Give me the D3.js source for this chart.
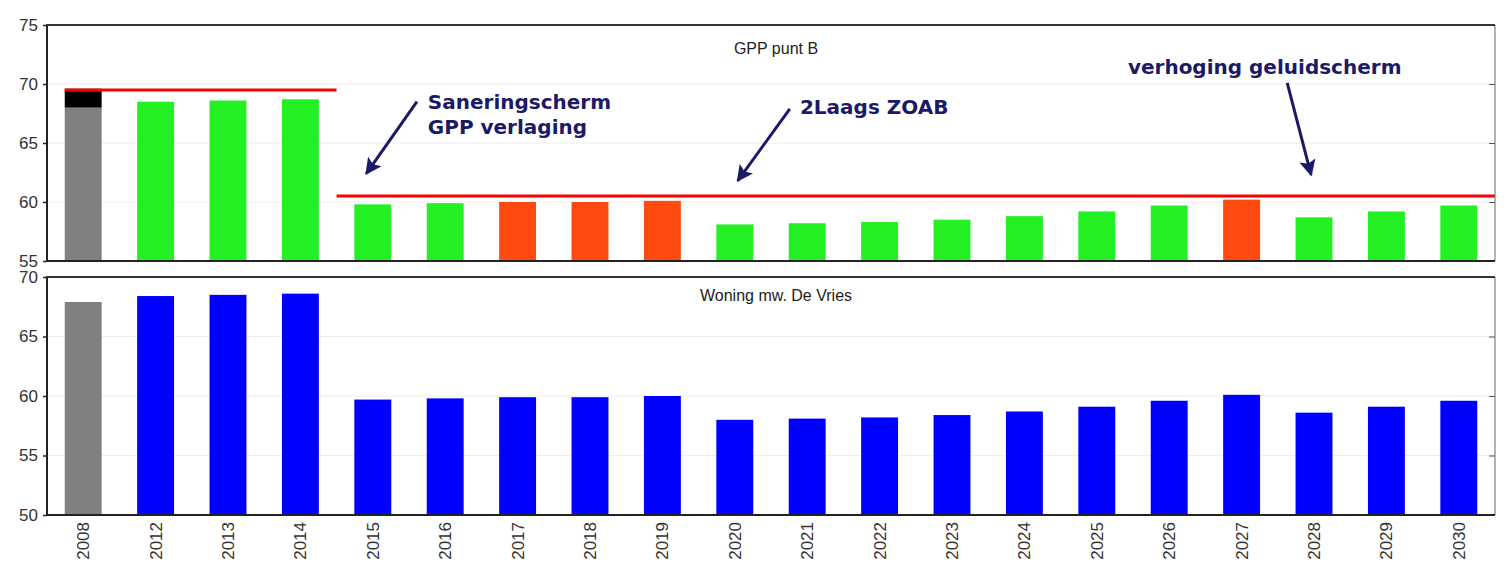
<!DOCTYPE html>
<html><head><meta charset="utf-8">
<script src="https://cdn.jsdelivr.net/npm/d3@7"></script>
<style>
html,body{margin:0;padding:0;background:#fff;}
svg{display:block;}
</style></head>
<body>
<svg id="chart" width="1509" height="575"></svg>
<script>
// ---- data ----
const years = ["2008","2012","2013","2014","2015","2016","2017","2018","2019","2020","2021","2022","2023","2024","2025","2026","2027","2028","2029","2030"];
const gppValues = [68.0,68.5,68.6,68.7,59.8,59.9,60.0,60.0,60.1,58.1,58.2,58.3,58.5,58.8,59.2,59.7,60.2,58.7,59.2,59.7];
const gppStatus = ["base","ok","ok","ok","ok","ok","over","over","over","ok","ok","ok","ok","ok","ok","ok","over","ok","ok","ok"];
const gppExtra2008 = [68.0, 69.6]; // black segment on top of 2008 bar
const woningValues = [67.9,68.4,68.5,68.6,59.7,59.8,59.9,59.9,60.0,58.0,58.1,58.2,58.4,58.7,59.1,59.6,60.1,58.6,59.1,59.6];
const limitFrom = ["2008","2015"];
const limitTo   = ["2014","2030"];
const limitValue = [69.5, 60.5];
const topTicks = [55,60,65,70,75];
const bottomTicks = [50,55,60,65,70];
const topTitle = "GPP punt B";
const bottomTitle = "Woning mw. De Vries";
// annotations: position in category-index units and dB values of the top panel
const noteLines = [["Saneringscherm","GPP verlaging"],["2Laags ZOAB"],["verhoging geluidscherm"]];
const noteTextPos = [[5.26,67.9],[10.4,67.5],[14.93,70.85]];
const arrowStart = [[5.11,68.5],[10.26,67.9],[17.13,70.1]];
const arrowEnd   = [[4.41,62.4],[9.54,61.8],[17.46,62.3]];

// ---- layout ----
const svg = d3.select("#chart");
const L = 47, R = 1495;
const topP = {y0:25, y1:261};
const botP = {y0:277, y1:515};
const colors = {base:"#808080", ok:"#22f022", over:"#ff4a10", blue:"#0000ff", black:"#000", red:"#ff0000", navy:"#1c1a66"};

const x = d3.scaleBand().domain(years).range([L,R]).paddingInner(0.49).paddingOuter(0.245);
const xi = d3.scaleLinear().domain([0, years.length]).range([L,R]);
const yTop = d3.scaleLinear().domain([55,75]).range([topP.y1, topP.y0]);
const yBot = d3.scaleLinear().domain([50,70]).range([botP.y1, botP.y0]);

function panel(y, ticks, p){
  const g = svg.append("g");
  g.selectAll("line.grid").data(ticks.slice(1,-1)).join("line")
    .attr("x1",L).attr("x2",R).attr("y1",d=>y(d)).attr("y2",d=>y(d))
    .attr("stroke","#eeeeee").attr("stroke-width",1);
  return g;
}
function frame(y, ticks, p){
  const g = svg.append("g");
  const ax = g.append("g").attr("transform",`translate(${L},0)`)
    .call(d3.axisLeft(y).tickValues(ticks).tickSize(4).tickPadding(5).tickFormat(d3.format("d")));
  ax.select(".domain").remove();
  ax.selectAll("line").attr("stroke","#222").attr("stroke-width",1.5);
  ax.selectAll("text").attr("font-family","Liberation Sans, Arial, sans-serif").attr("font-size",17).attr("fill","#333");
  const ar = g.append("g").attr("transform",`translate(${R},0)`)
    .call(d3.axisLeft(y).tickValues(ticks).tickSize(6).tickFormat(""));
  ar.select(".domain").attr("stroke","#666").attr("stroke-width",1).attr("d",`M0,${p.y0}V${p.y1}`);
  ar.selectAll("line").attr("stroke","#555").attr("x2",-6);
  g.append("line").attr("x1",L).attr("x2",L).attr("y1",p.y0).attr("y2",p.y1).attr("stroke","#222").attr("stroke-width",2);
  g.append("line").attr("x1",L-1).attr("x2",R).attr("y1",p.y1).attr("y2",p.y1).attr("stroke","#222").attr("stroke-width",2);
  g.append("line").attr("x1",L-1).attr("x2",R).attr("y1",p.y0).attr("y2",p.y0).attr("stroke","#333").attr("stroke-width",2);
}

// ---- top panel ----
panel(yTop, topTicks, topP);
svg.append("g").selectAll("rect").data(years).join("rect")
  .attr("x",d=>x(d)).attr("width",x.bandwidth())
  .attr("y",(d,i)=>yTop(gppValues[i])).attr("height",(d,i)=>yTop(55)-yTop(gppValues[i]))
  .attr("fill",(d,i)=>colors[gppStatus[i]]);
svg.append("rect")
  .attr("x",x(years[0])).attr("width",x.bandwidth())
  .attr("y",yTop(gppExtra2008[1])).attr("height",yTop(gppExtra2008[0])-yTop(gppExtra2008[1]))
  .attr("fill",colors.black);
const halfGap = x.step()*x.paddingInner()/2;
svg.append("g").selectAll("line").data(limitValue).join("line")
  .attr("x1",(d,i)=> i===0 ? x(limitFrom[i]) : x(limitFrom[i]) - halfGap)
  .attr("x2",(d,i)=> limitTo[i]===years[years.length-1] ? R : x(limitTo[i]) + x.bandwidth() + halfGap)
  .attr("y1",d=>yTop(d)).attr("y2",d=>yTop(d))
  .attr("stroke",colors.red).attr("stroke-width",3);
frame(yTop, topTicks, topP);
svg.append("text").attr("x",(L+R)/2 + 5).attr("y",54).attr("text-anchor","middle")
  .attr("font-family","Liberation Sans, Arial, sans-serif").attr("font-size",16).attr("fill","#222").text(topTitle);

// ---- bottom panel ----
panel(yBot, bottomTicks, botP);
svg.append("g").selectAll("rect").data(years).join("rect")
  .attr("x",d=>x(d)).attr("width",x.bandwidth())
  .attr("y",(d,i)=>yBot(woningValues[i])).attr("height",(d,i)=>yBot(50)-yBot(woningValues[i]))
  .attr("fill",(d,i)=> i===0 ? colors.base : colors.blue);
frame(yBot, bottomTicks, botP);
svg.append("text").attr("x",(L+R)/2 + 5).attr("y",301).attr("text-anchor","middle")
  .attr("font-family","Liberation Sans, Arial, sans-serif").attr("font-size",16).attr("fill","#222").text(bottomTitle);

svg.append("g").selectAll("text").data(years).join("text")
  .attr("transform",d=>`translate(${x(d)+x.bandwidth()/2+6},${botP.y1+7}) rotate(-90)`)
  .attr("text-anchor","end")
  .attr("font-family","Liberation Sans, Arial, sans-serif").attr("font-size",17).attr("fill","#333")
  .text(d=>d);

// ---- annotations ----
const defs = svg.append("defs");
defs.append("marker").attr("id","ah").attr("viewBox","0 0 10 10").attr("refX",9).attr("refY",5)
  .attr("markerWidth",6).attr("markerHeight",5.5).attr("orient","auto").attr("markerUnits","strokeWidth")
  .append("path").attr("d","M0,0L10,5L0,10L2,5Z").attr("fill",colors.navy);
svg.append("g").selectAll("line").data(arrowStart).join("line")
  .attr("x1",d=>xi(d[0])).attr("y1",d=>yTop(d[1]))
  .attr("x2",(d,i)=>xi(arrowEnd[i][0])).attr("y2",(d,i)=>yTop(arrowEnd[i][1]))
  .attr("stroke",colors.navy).attr("stroke-width",3).attr("marker-end","url(#ah)");
const nt = svg.append("g").selectAll("text").data(noteLines).join("text")
  .attr("font-family","DejaVu Sans, Verdana, sans-serif").attr("font-weight","bold").attr("font-size",20)
  .attr("fill",colors.navy)
  .attr("x",(d,i)=>xi(noteTextPos[i][0])).attr("y",(d,i)=>yTop(noteTextPos[i][1]));
nt.selectAll("tspan").data((d,i)=>d.map(t=>({t,i}))).join("tspan")
  .attr("x",d=>xi(noteTextPos[d.i][0])).attr("dy",(d,j)=> j===0?0:25).text(d=>d.t);
</script>
</body></html>
